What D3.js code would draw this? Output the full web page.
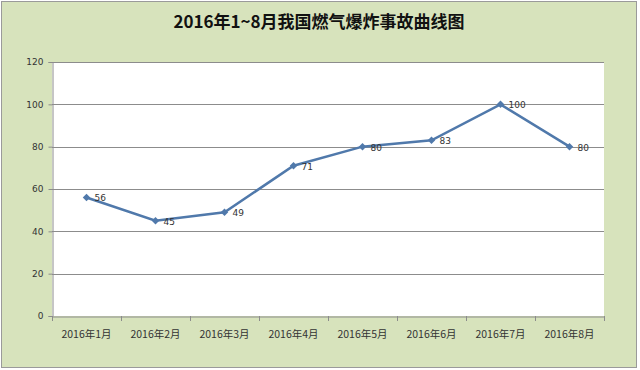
<!DOCTYPE html>
<html><head><meta charset="utf-8">
<script src="https://cdnjs.cloudflare.com/ajax/libs/d3/7.8.5/d3.min.js"></script>
<style>body{margin:0;background:#fff}svg{display:block}</style>
</head><body>
<svg id="c" width="640" height="370"></svg>
<script>
const categories = ["2016年1月","2016年2月","2016年3月","2016年4月","2016年5月","2016年6月","2016年7月","2016年8月"];
const values = [56,45,49,71,80,83,100,80];
const yTicks = [0,20,40,60,80,100,120];
const title = "2016年1~8月我国燃气爆炸事故曲线图";

const svg = d3.select("#c");
const W = 640, H = 370;
const m = {l:52, r:36, t:62, b:54};
svg.append("rect").attr("x",1.5).attr("y",1.5).attr("width",W-5).attr("height",H-4)
  .attr("fill","#d7e3bc").attr("stroke","#9a9a9a");
svg.append("text").attr("x",319).attr("y",28).attr("text-anchor","middle")
  .attr("font-family","'Noto Sans CJK SC',sans-serif").attr("font-weight","bold")
  .attr("font-size",17).attr("fill","#111").text(title);

const x = d3.scaleBand().domain(categories).range([m.l, W-m.r]);
const y = d3.scaleLinear().domain([0,120]).range([H-m.b, m.t]);

svg.append("rect").attr("x",m.l).attr("y",m.t).attr("width",W-m.r-m.l).attr("height",H-m.b-m.t).attr("fill","#fff");

// grid
svg.append("g").selectAll("line").data(yTicks.filter(d=>d>0)).join("line")
  .attr("x1",m.l).attr("x2",W-m.r).attr("y1",d=>Math.round(y(d))+0.5).attr("y2",d=>Math.round(y(d))+0.5)
  .attr("stroke","#8c8c8c").attr("stroke-width",1);

const yAxis = svg.append("g").attr("transform",`translate(${m.l+0.5},0)`)
  .call(d3.axisLeft(y).tickValues(yTicks).tickSize(4).tickPadding(5));
const xAxis = svg.append("g").attr("transform",`translate(0,${Math.round(y(0))+0.5})`)
  .call(d3.axisBottom(x).tickSize(0).tickPadding(14));
// boundary ticks
svg.append("g").selectAll("line").data(d3.range(categories.length+1)).join("line")
  .attr("x1",i=>Math.round(m.l + i*x.step())+0.5).attr("x2",i=>Math.round(m.l + i*x.step())+0.5)
  .attr("y1",Math.round(y(0))).attr("y2",Math.round(y(0))+5).attr("stroke","#8c8c8c");

[yAxis,xAxis].forEach(a=>{
  a.selectAll(".domain").attr("stroke","#8c8c8c");
  a.selectAll(".tick line").attr("stroke","#8c8c8c");
  a.selectAll("text").attr("font-family","'DejaVu Sans',sans-serif").attr("font-size",9).attr("fill","#333");
});
xAxis.selectAll("text").attr("font-family","'Noto Sans CJK SC',sans-serif").attr("font-size",10.5);

const cx = d => x(d) + x.bandwidth()/2;
svg.append("path").datum(values)
  .attr("d", d3.line().x((d,i)=>cx(categories[i])).y(d=>y(d)))
  .attr("fill","none").attr("stroke","#5079ab").attr("stroke-width",2.5);
svg.append("g").selectAll("path").data(values).join("path")
  .attr("d", d3.symbol(d3.symbolSquare, 28))
  .attr("transform",(d,i)=>`translate(${cx(categories[i])},${y(d)}) rotate(45)`)
  .attr("fill","#5079ab");
svg.append("g").selectAll("text").data(values).join("text")
  .attr("x",(d,i)=>cx(categories[i])+8).attr("y",d=>y(d)+4)
  .attr("font-family","'DejaVu Sans',sans-serif").attr("font-size",9).attr("fill","#333")
  .text(d=>d);
</script>
</body></html>
